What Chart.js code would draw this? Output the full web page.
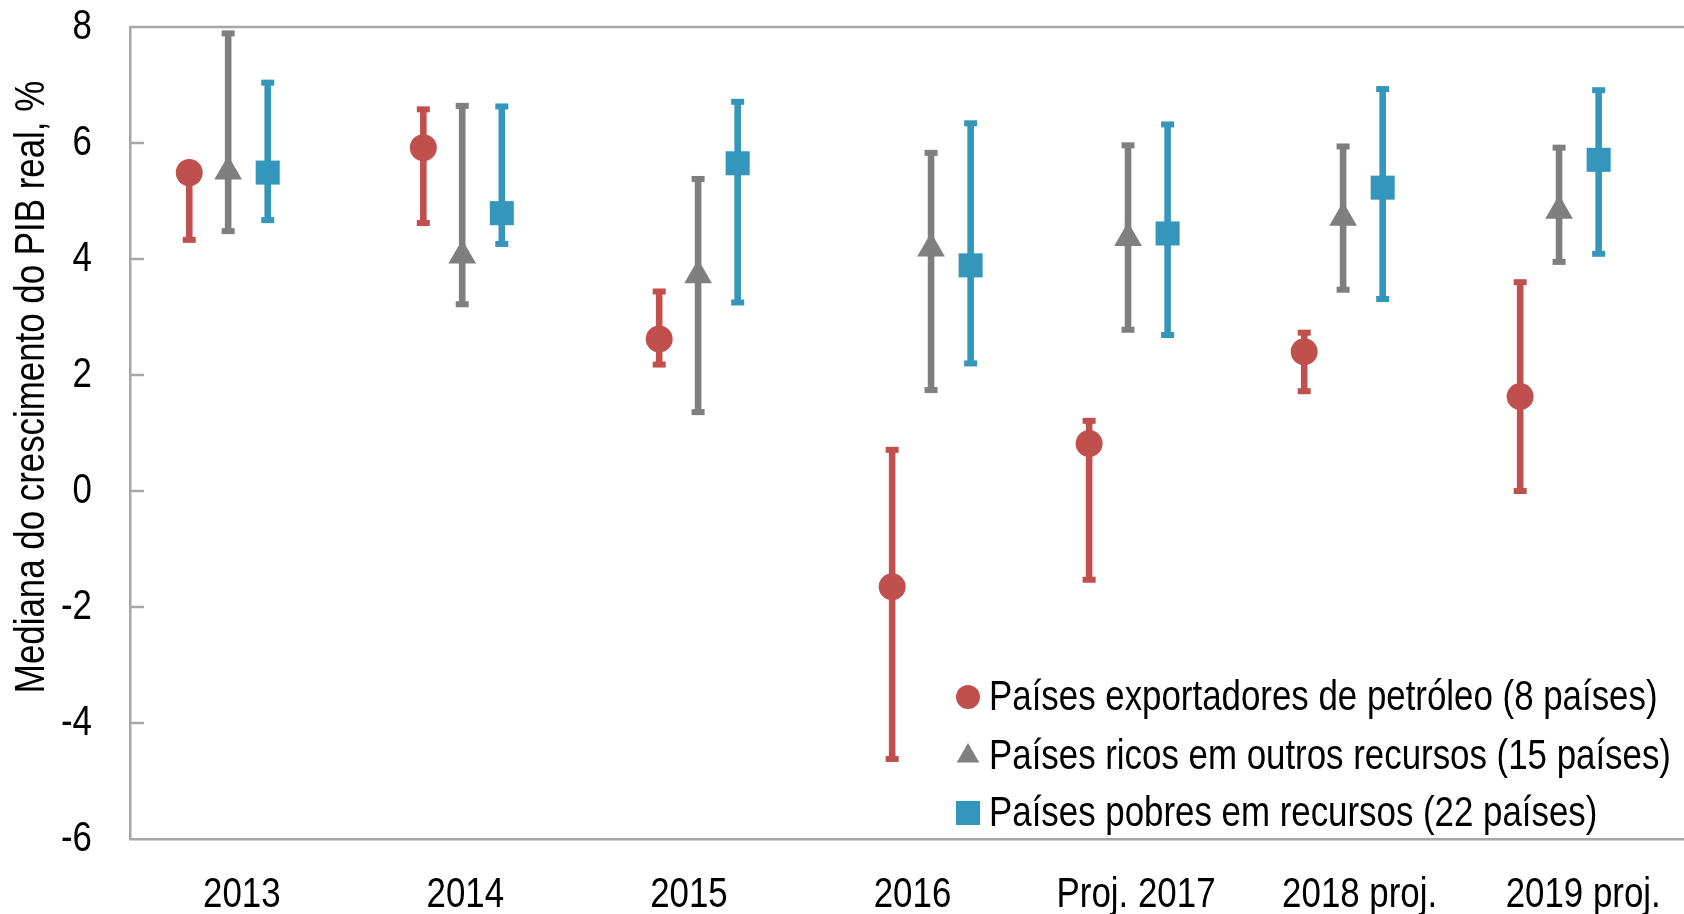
<!DOCTYPE html>
<html>
<head>
<meta charset="utf-8">
<script src="https://cdn.jsdelivr.net/npm/chart.js@4.4.1/dist/chart.umd.min.js"></script>
<style>
  html, body { margin: 0; padding: 0; background: #fff; overflow: hidden; }
  #wrap { width: 1684px; height: 914px; overflow: hidden; }
</style>
</head>
<body>
<div id="wrap"><canvas id="chart" width="1696" height="914"></canvas></div>
<script>
// categories (x axis)
const categories = ['2013', '2014', '2015', '2016', 'Proj. 2017', '2018 proj.', '2019 proj.'];

// series labels
const labelOil = 'Países exportadores de petróleo (8 países)';
const labelOther = 'Países ricos em outros recursos (15 países)';
const labelPoor = 'Países pobres em recursos (22 países)';

// x position of each marker, in category units (0 = 2013)
const xOil = [-0.235, 0.812, 1.867, 2.909, 3.790, 4.752, 5.718];
const xOther = [-0.061, 0.986, 2.041, 3.083, 3.964, 4.926, 5.892];
const xPoor = [0.116, 1.163, 2.218, 3.260, 4.141, 5.103, 6.069];

// median real GDP growth, %
const oilMid = [5.49, 5.92, 2.62, -1.65, 0.82, 2.40, 1.63];
const oilLow = [4.33, 4.62, 2.18, -4.62, -1.53, 1.72, 0.00];
const oilHigh = [5.49, 6.58, 3.44, 0.71, 1.21, 2.73, 3.60];

const otherMid = [5.51, 4.06, 3.72, 4.18, 4.36, 4.71, 4.83];
const otherLow = [4.48, 3.22, 1.36, 1.74, 2.78, 3.47, 3.95];
const otherHigh = [7.89, 6.64, 5.38, 5.83, 5.96, 5.94, 5.92];

const poorMid = [5.49, 4.79, 5.65, 3.89, 4.44, 5.23, 5.71];
const poorLow = [4.67, 4.26, 3.25, 2.20, 2.69, 3.31, 4.09];
const poorHigh = [7.04, 6.63, 6.71, 6.34, 6.32, 6.93, 6.91];

// y axis ticks
const yTicks = [-6, -4, -2, 0, 2, 4, 6, 8];

const yTitle = 'Mediana do crescimento do PIB real, %';

const FONT = "'Liberation Sans', Arial, sans-serif";
const FONT_SIZE = 42;
const NARROW = 0.83;   // no narrow font installed, so squeeze the text horizontally
const AXIS = '#A6A6A6';

const canvas = document.getElementById('chart');
const context = canvas.getContext('2d');
const baseFillText = context.fillText;
context.fillText = function (text, x, y, maxWidth) {
    this.save();
    this.translate(x, y);
    this.scale(NARROW, 1);
    if (maxWidth === undefined) {
        baseFillText.call(this, text, 0, 0);
    } else {
        baseFillText.call(this, text, 0, 0, maxWidth / NARROW);
    }
    this.restore();
};

function points(xs, ys) {
    return xs.map((x, i) => ({ x: x, y: ys[i] }));
}

// whiskers from low to high, drawn under the markers
const errorBars = {
    id: 'errorBars',
    beforeDatasetsDraw(chart) {
        const ctx = chart.ctx;
        const y = chart.scales.y;
        chart.data.datasets.forEach((ds, i) => {
            const meta = chart.getDatasetMeta(i);
            meta.data.forEach((pt, j) => {
                const top = y.getPixelForValue(ds.high[j]);
                const bot = y.getPixelForValue(ds.low[j]);
                ctx.save();
                ctx.fillStyle = ds.backgroundColor;
                ctx.fillRect(pt.x - 3.3, top, 6.6, bot - top);
                ctx.fillRect(pt.x - 6.5, top - 3, 13, 6);
                ctx.fillRect(pt.x - 6.5, bot - 3, 13, 6);
                ctx.restore();
            });
        });
    }
};

// top frame line, inward y ticks, y title, legend
const extras = {
    id: 'extras',
    afterDraw(chart) {
        const ctx = chart.ctx;
        const area = chart.chartArea;
        const y = chart.scales.y;
        ctx.save();
        ctx.strokeStyle = AXIS;
        ctx.lineWidth = 2.5;
        ctx.beginPath();
        ctx.moveTo(area.left - 1, area.top);
        ctx.lineTo(area.right + 5, area.top);
        yTicks.forEach(t => {
            if (t === 8 || t === -6) return;
            const py = y.getPixelForValue(t);
            ctx.moveTo(area.left, py);
            ctx.lineTo(area.left + 14, py);
        });
        ctx.stroke();

        // y title
        ctx.fillStyle = '#000';
        ctx.font = FONT_SIZE + 'px ' + FONT;
        ctx.textAlign = 'center';
        ctx.textBaseline = 'middle';
        ctx.translate(32, area.top + 360);
        ctx.rotate(-Math.PI / 2);
        ctx.fillText(yTitle, 0, 0);
        ctx.restore();

        // legend
        ctx.save();
        const rows = [area.bottom - 142, area.bottom - 83, area.bottom - 26];
        const mx = area.left + 838;
        chart.data.datasets.forEach((ds, i) => {
            ctx.fillStyle = ds.backgroundColor;
            Chart.helpers.drawPoint(ctx, {
                pointStyle: ds.pointStyle,
                radius: ds.legendRadius,
                borderWidth: 0,
                rotation: 0
            }, mx, rows[i]);
            ctx.fillStyle = '#000';
            ctx.font = FONT_SIZE + 'px ' + FONT;
            ctx.textAlign = 'left';
            ctx.textBaseline = 'middle';
            ctx.fillText(ds.label, mx + 21, rows[i] + 1);
        });
        ctx.restore();
    }
};

new Chart(canvas, {
    type: 'scatter',
    data: {
        datasets: [
            {
                label: labelOil,
                data: points(xOil, oilMid),
                low: oilLow,
                high: oilHigh,
                backgroundColor: '#C0504D',
                borderColor: '#C0504D',
                pointStyle: 'circle',
                pointRadius: 13.5,
                legendRadius: 12,
                pointBorderWidth: 0
            },
            {
                label: labelOther,
                data: points(xOther, otherMid),
                low: otherLow,
                high: otherHigh,
                backgroundColor: '#7F7F7F',
                borderColor: '#7F7F7F',
                pointStyle: 'triangle',
                pointRadius: 16,
                legendRadius: 13,
                pointBorderWidth: 0
            },
            {
                label: labelPoor,
                data: points(xPoor, poorMid),
                low: poorLow,
                high: poorHigh,
                backgroundColor: '#3596BC',
                borderColor: '#3596BC',
                pointStyle: 'rect',
                pointRadius: 17,
                legendRadius: 17,
                pointBorderWidth: 0
            }
        ]
    },
    options: {
        responsive: false,
        animation: false,
        events: [],
        layout: {
            autoPadding: false,
            padding: { left: 0, top: 27, right: 1, bottom: 0 }
        },
        plugins: {
            legend: { display: false },
            tooltip: { enabled: false }
        },
        scales: {
            x: {
                type: 'linear',
                display: false,
                min: -0.5,
                max: 6.5
            },
            cat: {
                type: 'category',
                labels: categories,
                position: 'bottom',
                offset: true,
                grid: { display: false, tickLength: 31 },
                border: { display: true, color: AXIS, width: 2.5 },
                ticks: {
                    color: '#000',
                    padding: 0,
                    maxRotation: 0,
                    autoSkip: false,
                    font: { family: FONT, size: FONT_SIZE }
                },
                afterFit(scale) {
                    scale.height = 75;
                    scale.paddingLeft = 0;
                    scale.paddingRight = 0;
                }
            },
            y: {
                min: -6,
                max: 8,
                afterBuildTicks(scale) { scale.ticks = yTicks.map(v => ({ value: v })); },
                grid: { display: false, tickLength: 38 },
                border: { display: true, color: AXIS, width: 2.5 },
                ticks: {
                    color: '#000',
                    padding: 0,
                    font: { family: FONT, size: FONT_SIZE }
                },
                afterFit(scale) {
                    scale.width = 130;
                    scale.paddingTop = 0;
                    scale.paddingBottom = 0;
                }
            }
        }
    },
    plugins: [errorBars, extras]
});
</script>
</body>
</html>
